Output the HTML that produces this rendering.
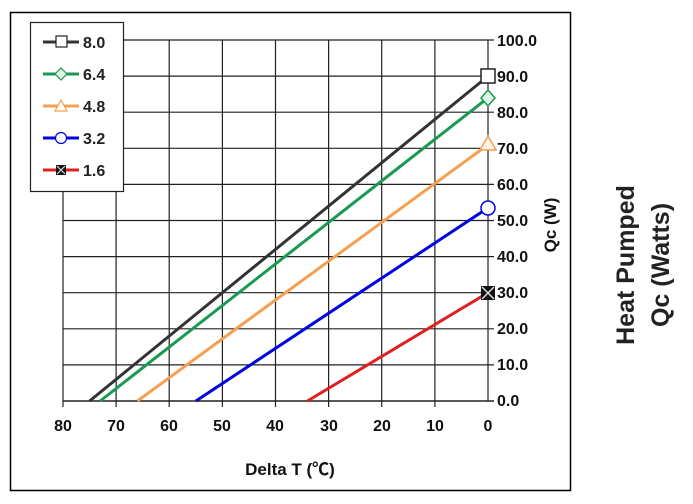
<!DOCTYPE html>
<html><head><meta charset="utf-8"><style>body{margin:0;background:#fff}</style></head><body>
<svg width="693" height="499" viewBox="0 0 693 499" xmlns="http://www.w3.org/2000/svg" font-family="Liberation Sans, Noto Sans CJK SC, sans-serif" font-weight="bold">
<rect x="10.5" y="12.5" width="560" height="478" fill="#fff" stroke="#000" stroke-width="1.5"/>
<g stroke="#222" stroke-width="1.2">
<line x1="63" y1="40" x2="63" y2="401"/><line x1="116.1" y1="40" x2="116.1" y2="401"/><line x1="169.2" y1="40" x2="169.2" y2="401"/><line x1="222.4" y1="40" x2="222.4" y2="401"/><line x1="275.5" y1="40" x2="275.5" y2="401"/><line x1="328.6" y1="40" x2="328.6" y2="401"/><line x1="381.7" y1="40" x2="381.7" y2="401"/><line x1="434.9" y1="40" x2="434.9" y2="401"/><line x1="488" y1="40" x2="488" y2="401"/>
<line x1="63" y1="40" x2="494" y2="40"/><line x1="63" y1="76.1" x2="494" y2="76.1"/><line x1="63" y1="112.2" x2="494" y2="112.2"/><line x1="63" y1="148.3" x2="494" y2="148.3"/><line x1="63" y1="184.4" x2="494" y2="184.4"/><line x1="63" y1="220.5" x2="494" y2="220.5"/><line x1="63" y1="256.6" x2="494" y2="256.6"/><line x1="63" y1="292.7" x2="494" y2="292.7"/><line x1="63" y1="328.8" x2="494" y2="328.8"/><line x1="63" y1="364.9" x2="494" y2="364.9"/><line x1="63" y1="401" x2="494" y2="401" stroke-width="1.6"/>
<line x1="63" y1="401" x2="63" y2="407"/><line x1="116.1" y1="401" x2="116.1" y2="407"/><line x1="169.2" y1="401" x2="169.2" y2="407"/><line x1="222.4" y1="401" x2="222.4" y2="407"/><line x1="275.5" y1="401" x2="275.5" y2="407"/><line x1="328.6" y1="401" x2="328.6" y2="407"/><line x1="381.7" y1="401" x2="381.7" y2="407"/><line x1="434.9" y1="401" x2="434.9" y2="407"/>
</g>
<g stroke-width="3" fill="none">
<line x1="89.6" y1="401" x2="488" y2="76.1" stroke="#333"/>
<line x1="100.2" y1="401" x2="488" y2="97.8" stroke="#1a9a50"/>
<line x1="137.4" y1="401" x2="488" y2="144.7" stroke="#f5a050"/>
<line x1="195.9" y1="401" x2="488" y2="207.9" stroke="#0000e0"/>
<line x1="307.4" y1="401" x2="488" y2="292.7" stroke="#e02020"/>
</g>
<rect x="481" y="69" width="14" height="14" fill="#fff" stroke="#222" stroke-width="1.5"/>
<polygon points="488,90 495,98 488,106 481,98" fill="#dff5e8" stroke="#1a9a50" stroke-width="1.5"/>
<polygon points="488,136 496,150 480,150" fill="#fff3e6" stroke="#f5a050" stroke-width="1.5"/>
<circle cx="488" cy="208" r="7" fill="#fff" stroke="#0000e0" stroke-width="1.5"/>
<rect x="481" y="286" width="14" height="14" fill="#111"/><path d="M482,287L494,299M494,287L482,299" stroke="#ddd" stroke-width="1.5"/>
<g font-size="16" fill="#111">
<text x="497" y="46">100.0</text><text x="497" y="82">90.0</text><text x="497" y="118">80.0</text><text x="497" y="154">70.0</text><text x="497" y="190">60.0</text><text x="497" y="226">50.0</text><text x="497" y="262">40.0</text><text x="497" y="298">30.0</text><text x="497" y="334">20.0</text><text x="497" y="370">10.0</text><text x="497" y="406">0.0</text>
</g>
<g font-size="16" fill="#111" text-anchor="middle">
<text x="63" y="431">80</text><text x="116" y="431">70</text><text x="169" y="431">60</text><text x="222" y="431">50</text><text x="275" y="431">40</text><text x="329" y="431">30</text><text x="382" y="431">20</text><text x="435" y="431">10</text><text x="488" y="431">0</text>
<text x="290" y="475" font-size="17">Delta T (℃)</text>
<text transform="translate(556,225) rotate(-90)" font-size="17">Qc (W)</text>
</g>
<g font-size="25" fill="#222" text-anchor="middle">
<text transform="translate(634,265) rotate(-90)">Heat Pumped</text>
<text transform="translate(669,265) rotate(-90)">Qc (Watts)</text>
</g>
<rect x="30.5" y="22.5" width="93" height="169" fill="#fff" stroke="#222" stroke-width="1.2"/>
<g stroke-width="3">
<line x1="43" y1="42" x2="79" y2="42" stroke="#333"/><line x1="43" y1="74" x2="79" y2="74" stroke="#1a9a50"/><line x1="43" y1="106" x2="79" y2="106" stroke="#f5a050"/><line x1="43" y1="138" x2="79" y2="138" stroke="#0000e0"/><line x1="43" y1="170" x2="79" y2="170" stroke="#e02020"/>
</g>
<rect x="56" y="36" width="11" height="11" fill="#fff" stroke="#222" stroke-width="1.2"/>
<polygon points="61,68 67,74 61,80 55,74" fill="#dff5e8" stroke="#1a9a50" stroke-width="1.2"/>
<polygon points="61,100 67,111 55,111" fill="#fff" stroke="#f5a050" stroke-width="1.2"/>
<circle cx="61" cy="138" r="5.5" fill="#fff" stroke="#0000e0" stroke-width="1.2"/>
<rect x="56" y="165" width="10" height="10" fill="#111"/><path d="M57,166L65,174M65,166L57,174" stroke="#ddd" stroke-width="1.2"/>
<g font-size="16" fill="#222">
<text x="83" y="48">8.0</text><text x="83" y="80">6.4</text><text x="83" y="112">4.8</text><text x="83" y="144">3.2</text><text x="83" y="176">1.6</text>
</g>
</svg>
</body></html>
